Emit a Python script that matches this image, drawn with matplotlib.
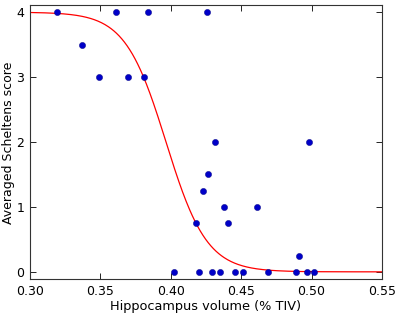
import numpy as np
import matplotlib
matplotlib.use('Agg')
import matplotlib.pyplot as plt

# hippocampus volume (% TIV) and averaged Scheltens score
hippo_vol = [0.319, 0.3367, 0.3488, 0.361, 0.3694, 0.3807, 0.3838,
             0.4255, 0.4314, 0.4984,
             0.4267, 0.4231, 0.4375, 0.4612,
             0.4179, 0.4406, 0.4913,
             0.4023, 0.4202, 0.4295, 0.4352, 0.4456, 0.4515, 0.4688,
             0.4891, 0.4967, 0.5019]
scheltens = [4, 3.5, 3, 4, 3, 3, 4,
             4, 2, 2,
             1.5, 1.25, 1, 1,
             0.75, 0.75, 0.25,
             0, 0, 0, 0, 0, 0, 0,
             0, 0, 0]

# fitted sigmoid parameters
fit_top = 4.0
fit_mid = 0.3966
fit_scale = 0.0145

fig = plt.figure(figsize=(4.0, 3.14), dpi=100)
ax = fig.add_axes([0.075, 0.1115, 0.88, 0.8725])

xs = np.linspace(0.30, 0.55, 400)
ax.plot(xs, fit_top / (1 + np.exp((xs - fit_mid) / fit_scale)), color='red', lw=0.9)
ax.scatter(hippo_vol, scheltens, s=20, color='#0000c8', edgecolors='#000080',
           linewidths=0.3, zorder=3)

ax.set_xlim(0.30, 0.55)
ax.set_ylim(-0.11, 4.11)
ax.set_xticks(np.arange(0.30, 0.551, 0.05))
ax.set_xticklabels(['0.30', '0.35', '0.40', '0.45', '0.50', '0.55'])
ax.set_yticks([0, 1, 2, 3, 4])
ax.tick_params(direction='in', top=True, right=True, length=4, width=0.6,
               labelsize=9, pad=4)
for sp in ax.spines.values():
    sp.set_color('#333333')
    sp.set_linewidth(0.8)

ax.set_xlabel('Hippocampus volume (% TIV)', fontsize=9.3, labelpad=2)
ax.set_ylabel('Averaged Scheltens score', fontsize=9.0)
ax.yaxis.set_label_coords(-0.043, 0.496)

plt.savefig('out.png', dpi=100)
